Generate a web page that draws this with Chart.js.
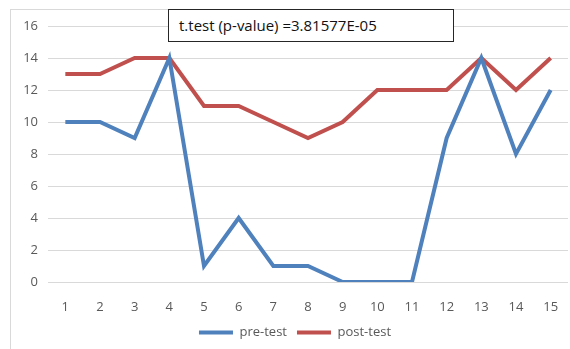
<!DOCTYPE html>
<html>
<head>
<meta charset="utf-8">
<script src="https://cdn.jsdelivr.net/npm/chart.js@4"></script>
<style>
  html, body { margin: 0; padding: 0; background: #fff; overflow: hidden; }
  #wrap { position: relative; width: 570px; height: 349px; }
  #frame { position: absolute; left: 10px; top: 9px; width: 600px; height: 400px; border: 1px solid #d9d9d9; }
  #chart { position: absolute; left: 0; top: 0; }
  #note {
    position: absolute; left: 168px; top: 9px; width: 274px; height: 31px;
    border: 1.5px solid #262626; background: #fff;
    font-family: "Open Sans", sans-serif; font-size: 15px; color: #111;
    line-height: 31px; padding-left: 10px; box-sizing: content-box;
  }
</style>
</head>
<body>
<div id="wrap">
  <div id="frame"></div>
  <canvas id="chart" width="570" height="349"></canvas>
  <div id="note">t.test (p-value) =3.81577E-05</div>
</div>
<script>
const labels = ['1', '2', '3', '4', '5', '6', '7', '8', '9', '10', '11', '12', '13', '14', '15'];
const preTest = [10, 10, 9, 14, 1, 4, 1, 1, 0, 0, 0, 9, 14, 8, 12];
const postTest = [13, 13, 14, 14, 11, 11, 10, 9, 10, 12, 12, 12, 14, 12, 14];

const tickFont = { family: 'Open Sans', size: 13 };

new Chart(document.getElementById('chart'), {
  type: 'line',
  data: {
    labels: labels,
    datasets: [
      { label: 'pre-test', data: preTest, borderColor: '#4f81bd', backgroundColor: '#4f81bd', borderWidth: 4, pointRadius: 0, tension: 0 },
      { label: 'post-test', data: postTest, borderColor: '#c0504d', backgroundColor: '#c0504d', borderWidth: 4, pointRadius: 0, tension: 0 }
    ]
  },
  options: {
    responsive: false,
    animation: false,
    layout: { padding: { top: 26, left: 22, right: 2, bottom: 0 } },
    plugins: {
      tooltip: { enabled: false },
      legend: {
        position: 'bottom',
        labels: {
          usePointStyle: true,
          pointStyle: 'line',
          pointStyleWidth: 34,
          boxHeight: 4,
          padding: 10,
          color: '#595959',
          font: tickFont
        }
      }
    },
    scales: {
      x: {
        offset: true,
        grid: { display: false },
        border: { display: false },
        ticks: { color: '#595959', font: tickFont, padding: 9 },
        afterFit: s => { s.height = 34; }
      },
      y: {
        min: 0,
        max: 16,
        ticks: { stepSize: 2, color: '#595959', font: tickFont, padding: 10 },
        grid: { color: '#d9d9d9', drawTicks: false, lineWidth: 1 },
        border: { display: false },
        afterFit: s => { s.width = 26; }
      }
    }
  }
});
</script>
</body>
</html>
